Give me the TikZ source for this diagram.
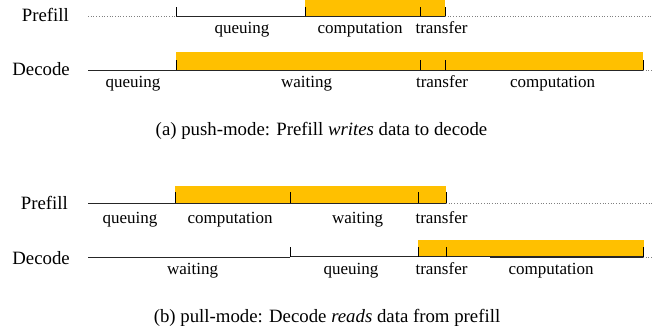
\documentclass[tikz,border=0pt]{standalone}
\usepackage{fontspec}
\setmainfont{Liberation Serif}
\definecolor{bar}{HTML}{FFC000}
\definecolor{dotg}{HTML}{808080}
\begin{document}
\begin{tikzpicture}[x=1pt,y=-1pt,
  lbl/.style={anchor=base,inner sep=0pt,font=\fontsize{17}{20}\selectfont},
  nm/.style={anchor=base east,inner sep=0pt,font=\fontsize{18.8}{22}\selectfont},
  captext/.style={anchor=base,inner sep=0pt,font=\fontsize{18.8}{22}\selectfont},
  tl/.style={line width=0.9pt,black!85},
  dl/.style={line width=0.7pt,dotg,dotted},
  barbox/.style={fill=bar,draw=none},
  tk/.style={line width=1pt,black}]
\useasboundingbox (0,0) rectangle (655,327);
% ---------- (a) push-mode ----------
% Prefill row
\fill[barbox] (305,-2) rectangle (445,16);
\draw[dl] (88,16) -- (176,16);
\draw[tl] (176,16) -- (445,16);
\draw[dl] (445,16) -- (652,16);
\foreach \x in {176,305,420,445} \draw[tk] (\x,16) -- (\x,7);
\node[nm] (pa) at (69,21.5) {Prefill};
\node[lbl] (pa1) at (242,33) {queuing};
\node[lbl] (pa2) at (360,33) {computation};
\node[lbl] (pa3) at (441.5,33) {transfer};
% Decode row
\fill[barbox] (176,52) rectangle (643,70);
\draw[tl] (88,70) -- (643,70);
\draw[dl] (643,70) -- (652,70);
\foreach \x in {176,420,445,643} \draw[tk] (\x,70) -- (\x,60);
\node[nm] (da) at (70,75) {Decode};
\node[lbl] (da1) at (133,87) {queuing};
\node[lbl] (da2) at (306.5,87) {waiting};
\node[lbl] (da3) at (442,87) {transfer};
\node[lbl] (da4) at (552.5,87) {computation};
\node[captext] (capa) at (321.5,135) {(a) push-mode: Prefill \textit{writes} data to decode};
% ---------- (b) pull-mode ----------
% Prefill row
\fill[barbox] (175,186) rectangle (446,203);
\draw[tl] (88,203) -- (446,203);
\draw[dl] (446,203) -- (652,203);
\foreach \x in {175,290,418,446} \draw[tk] (\x,203) -- (\x,192);
\node[nm] (pb) at (68,209) {Prefill};
\node[lbl] (pb1) at (130,223) {queuing};
\node[lbl] (pb2) at (230,223) {computation};
\node[lbl] (pb3) at (357.5,223) {waiting};
\node[lbl] (pb4) at (441.5,223) {transfer};
% Decode row
\fill[barbox] (418,240) rectangle (644,257);
\draw[tl] (88,257) -- (290,257);
\draw[tl] (290,256.5) -- (643,256.5);
\draw[line width=1.6pt,black!85] (490,257) -- (643,257);
\draw[dl] (643,257) -- (652,257);
\foreach \x in {290,418,446,643} \draw[tk] (\x,257) -- (\x,247);
\node[nm] (db) at (70,264) {Decode};
\node[lbl] (db1) at (192.5,274) {waiting};
\node[lbl] (db2) at (351,274) {queuing};
\node[lbl] (db3) at (441.5,274) {transfer};
\node[lbl] (db4) at (551,274) {computation};
\node[captext] (capb) at (327,322) {(b) pull-mode: Decode \textit{reads} data from prefill};
\end{tikzpicture}
\end{document}
